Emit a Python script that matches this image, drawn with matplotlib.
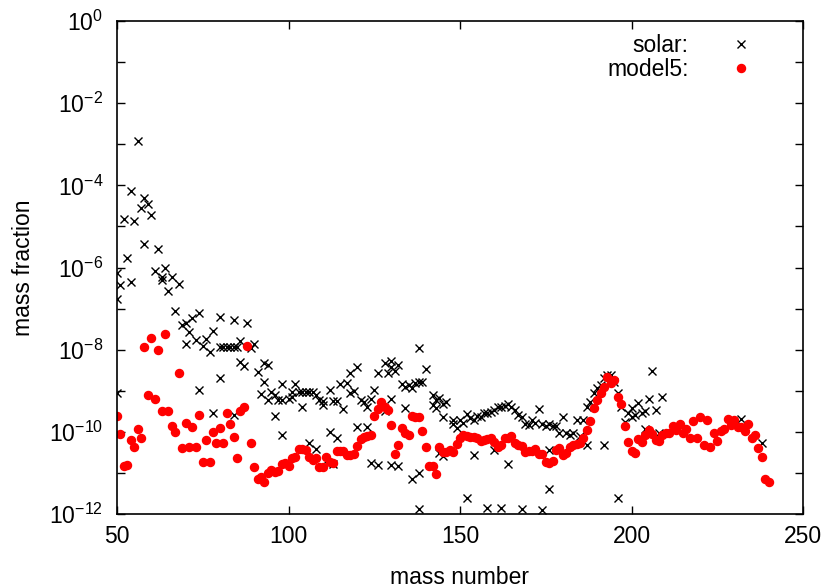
import numpy as np
import matplotlib
matplotlib.use("Agg")
import matplotlib.pyplot as plt
from matplotlib.ticker import FixedLocator, FuncFormatter, NullLocator

plt.rcParams['font.family'] = ['Liberation Sans', 'DejaVu Sans']
plt.rcParams['mathtext.default'] = 'regular'

# model5: one value per mass number 50..240, stored as log10(mass fraction)
model_A = np.arange(50, 241)
model_log = [
    -9.62, -10.06, -10.82, -10.81, -10.20, -10.38, -9.93, -10.14, -7.94, -9.10,   # 50-59
    -7.72, -9.19, -8.01, -9.50, -7.62, -9.50, -9.85, -10.00, -8.57, -10.40,      # 60-69
    -9.79, -10.38, -9.88, -10.36, -9.59, -10.74, -10.21, -10.74, -10.00, -10.27,  # 70-79
    -9.91, -10.26, -9.55, -9.81, -10.12, -10.64, -9.49, -9.40, -7.90, -10.26,    # 80-89
    -10.86, -11.16, -11.09, -11.22, -11.00, -10.93, -10.97, -10.95, -10.78, -10.75,  # 90-99
    -10.83, -10.63, -10.61, -10.41, -10.41, -10.44, -10.61, -10.69, -10.64, -10.86,  # 100-109
    -10.86, -10.62, -10.73, -10.77, -10.46, -10.46, -10.46, -10.57, -10.56, -10.55,  # 110-119
    -10.34, -10.17, -10.13, -10.10, -10.07, -9.62, -9.44, -9.27, -9.39, -9.47,   # 120-129
    -9.83, -10.53, -10.31, -9.91, -10.02, -10.08, -9.62, -9.63, -9.65, -9.97,    # 130-139
    -10.38, -10.83, -10.82, -11.03, -10.38, -10.50, -10.50, -10.44, -10.50, -10.30,  # 140-149
    -10.16, -10.08, -10.10, -10.12, -10.12, -10.16, -10.22, -10.20, -10.18, -10.14,  # 150-159
    -10.24, -10.36, -10.31, -10.14, -10.14, -10.09, -10.28, -10.31, -10.34, -10.50,  # 160-169
    -10.46, -10.46, -10.43, -10.54, -10.54, -10.73, -10.75, -10.70, -10.44, -10.40,  # 170-179
    -10.57, -10.51, -10.36, -10.32, -10.30, -10.28, -10.16, -9.96, -9.73, -9.43,  # 180-189
    -9.23, -9.05, -8.90, -8.66, -8.82, -8.74, -9.16, -9.32, -9.85, -10.25,       # 190-199
    -10.46, -10.51, -10.17, -10.25, -10.07, -9.96, -10.05, -10.20, -10.22, -10.08,  # 200-209
    -10.02, -10.04, -9.86, -9.96, -9.81, -10.02, -9.92, -10.15, -9.73, -10.15,   # 210-219
    -9.64, -10.33, -9.70, -10.36, -10.04, -10.22, -9.97, -9.94, -9.68, -9.84,    # 220-229
    -9.71, -9.88, -9.89, -9.99, -9.80, -10.14, -10.07, -10.40, -10.61, -11.16,   # 230-239
    -11.21,                                                                      # 240
]

# solar: mass number and log10(mass fraction), several isotopes per A
solar_A = [
    50, 50, 50, 51, 52, 53, 54, 54, 55, 56, 57, 58, 58, 59, 60, 61, 62, 63, 63, 64,
    65, 66, 67, 68, 69, 70, 70, 71, 72, 73, 74, 74, 75, 76, 77, 78, 78, 80, 80, 80,
    81, 82, 83, 84, 84, 84, 85, 86, 86, 87, 88, 89, 90, 91, 92, 93, 93, 94, 94, 95,
    96, 96, 97, 98, 98, 98, 100, 101, 101, 102, 103, 104, 104, 105, 106, 106, 107, 108, 108, 109,
    110, 110, 111, 112, 112, 113, 113, 114, 114, 115, 116, 117, 118, 118, 119, 120, 120, 121, 122, 123,
    123, 124, 124, 125, 126, 126, 128, 128, 129, 130, 130, 130, 130, 131, 132, 132, 133, 134, 134, 135,
    136, 136, 137, 138, 138, 138, 138, 139, 140, 142, 142, 143, 143, 144, 144, 145, 145, 145, 146, 148,
    148, 149, 150, 151, 152, 152, 153, 154, 154, 155, 156, 157, 158, 158, 159, 160, 160, 161, 162, 162,
    163, 164, 164, 165, 166, 167, 168, 168, 169, 170, 171, 172, 173, 174, 174, 175, 176, 176, 176, 177,
    178, 179, 180, 181, 182, 183, 184, 185, 186, 187, 187, 188, 189, 190, 191, 192, 192, 193, 194, 195,
    196, 196, 197, 198, 199, 200, 200, 201, 202, 203, 204, 204, 205, 206, 207, 208, 209, 232, 238,
]
solar_log = [
    -6.14, -6.77, -9.05, -6.43, -4.82, -5.76, -4.15, -6.36, -4.88, -2.93, -4.55, -4.30, -5.43, -4.46, -4.71, -6.08, -5.56, -6.24, -6.30, -6.02,
    -6.57, -6.22, -7.07, -6.39, -7.40, -7.36, -7.86, -7.57, -7.24, -7.77, -7.10, -8.98, -7.91, -7.75, -8.06, -7.54, -9.53, -7.21, -7.93, -8.70,
    -7.93, -7.93, -7.93, -7.28, -7.93, -9.59, -7.93, -7.78, -8.29, -8.40, -7.36, -7.96, -7.87, -8.54, -9.08, -8.33, -8.78, -8.37, -9.23, -9.03,
    -9.10, -9.62, -9.23, -8.83, -9.23, -10.08, -9.19, -9.14, -9.02, -8.83, -9.02, -9.02, -9.40, -9.02, -9.02, -10.28, -9.02, -9.11, -10.43, -9.23,
    -9.26, -9.35, -10.70, -8.97, -10.00, -9.24, -10.78, -9.26, -10.16, -8.83, -9.45, -8.82, -9.05, -8.58, -9.00, -8.43, -9.89, -9.23, -9.27, -9.39,
    -9.89, -9.19, -10.77, -8.97, -8.57, -10.80, -8.33, -9.49, -8.56, -8.27, -8.42, -9.19, -10.81, -8.51, -8.37, -10.83, -8.83, -8.90, -9.43, -8.86,
    -8.94, -11.16, -8.82, -8.78, -7.96, -11.01, -11.88, -8.79, -8.48, -9.10, -9.35, -9.23, -9.43, -9.17, -10.52, -9.33, -9.63, -10.59, -9.27, -9.81,
    -9.71, -9.91, -9.71, -9.79, -9.57, -11.62, -9.67, -9.71, -10.56, -9.62, -9.63, -9.55, -9.55, -11.85, -9.51, -9.47, -10.44, -9.40, -9.39, -11.86,
    -9.36, -9.32, -10.78, -9.40, -9.47, -9.59, -9.63, -11.89, -9.81, -9.84, -9.71, -9.79, -9.45, -9.81, -11.90, -9.86, -9.81, -10.44, -11.40, -9.87,
    -9.87, -10.04, -9.63, -10.02, -10.08, -10.04, -9.71, -10.10, -9.71, -9.39, -10.32, -9.27, -9.05, -8.94, -8.86, -8.70, -10.32, -8.62, -8.62, -8.78,
    -9.05, -11.62, -9.40, -9.75, -9.55, -9.43, -9.65, -9.59, -9.29, -9.53, -9.49, -9.92, -9.19, -8.51, -9.47, -10.02, -9.14, -9.69, -10.28,
]

fig = plt.figure(figsize=(8.28, 5.88), dpi=100)
ax = fig.add_axes([117 / 828, 1 - 514 / 588, 686 / 828, 493 / 588])

ax.plot(solar_A, 10.0 ** np.array(solar_log), linestyle='none', marker='x',
        color='black', ms=6, mew=1.0, label='solar:')
ax.plot(model_A, 10.0 ** np.array(model_log), linestyle='none', marker='o',
        color='red', ms=5.8, mec='red', label='model5:')

ax.set_yscale('log')
ax.set_xlim(50, 250)
ax.set_ylim(1e-12, 1)
ax.set_xticks([50, 100, 150, 200, 250])
ax.yaxis.set_major_locator(FixedLocator([10.0 ** e for e in range(-12, 1)]))
ax.yaxis.set_minor_locator(NullLocator())


def ylab(v, pos):
    e = int(round(np.log10(v)))
    return r'$10^{%d}$' % e if e % 2 == 0 else ''


ax.yaxis.set_major_formatter(FuncFormatter(ylab))
ax.tick_params(which='both', direction='in', top=True, right=True,
               length=6, width=1.0, labelsize=16.5, pad=8)
ax.tick_params(axis='y', pad=10)
for s in ax.spines.values():
    s.set_linewidth(1.2)

ax.set_xlabel('mass number', fontsize=16.5, labelpad=13)
ax.set_ylabel('mass fraction', fontsize=16.5, labelpad=10)

ax.legend(loc='upper right', bbox_to_anchor=(0.945, 1.0), frameon=False,
          markerfirst=False, fontsize=16.5, handlelength=1.0, handletextpad=1.8,
          labelspacing=0.05, borderaxespad=0.15)

fig.savefig('out.png', dpi=100)
